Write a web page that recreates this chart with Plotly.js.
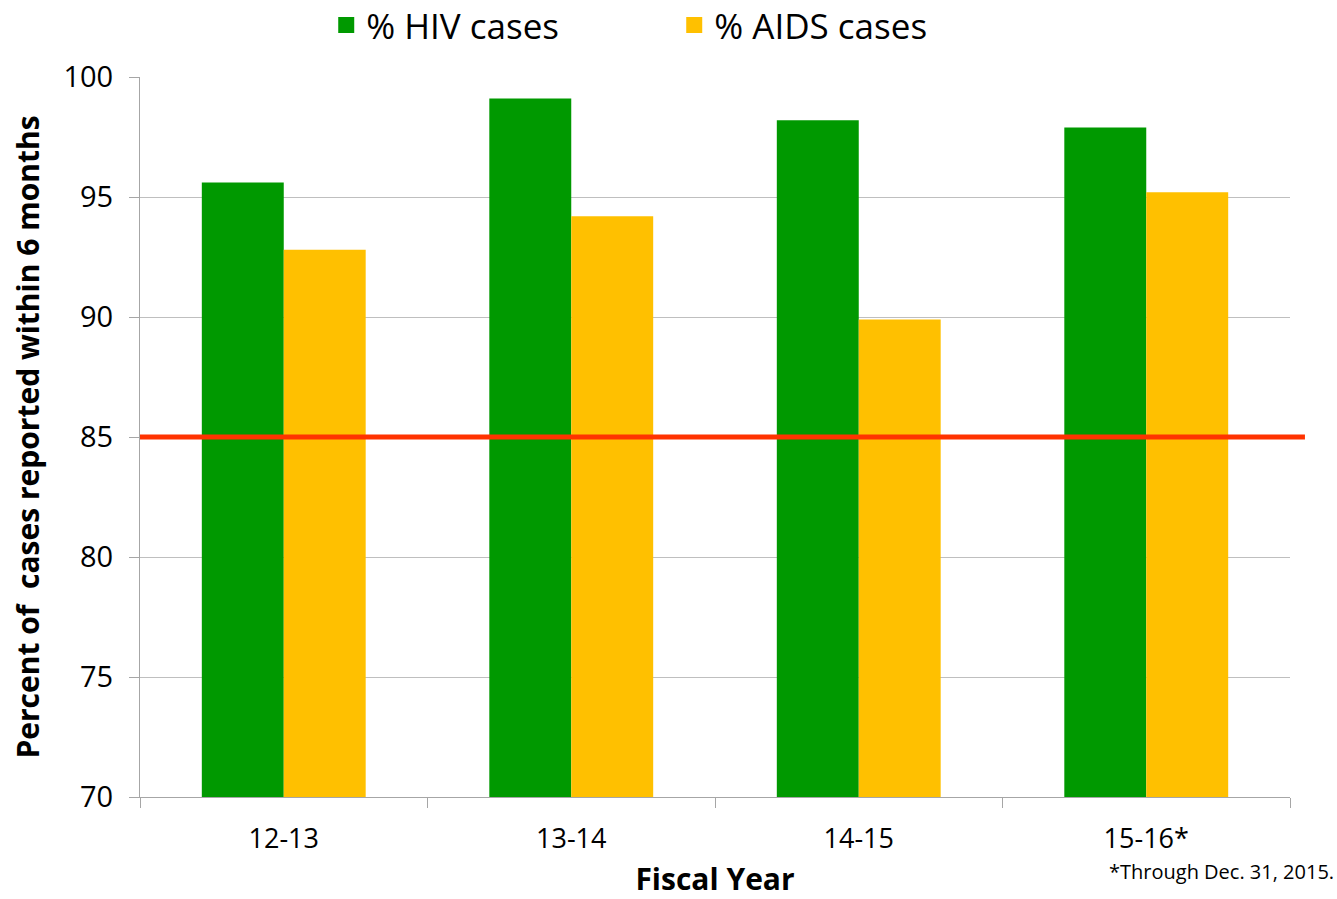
<!DOCTYPE html>
<html><head><meta charset="utf-8">
<script src="https://cdn.plot.ly/plotly-3.0.1.min.js"></script>
<style>html,body{margin:0;padding:0;background:#fff}#chart{width:1337px;height:899px}</style>
</head><body><div id="chart"></div>
<script>
const years = ["12-13", "13-14", "14-15", "15-16*"];
const hivPct = [95.6, 99.1, 98.2, 97.9];
const aidsPct = [92.8, 94.2, 89.9, 95.2];
const targetPct = 85;
const seriesNames = ["% HIV cases", "% AIDS cases"];
const seriesColors = ["#009900", "#FFC000"];

const font = "Open Sans, Noto Sans, sans-serif";
const traces = [
  {type: "bar", name: seriesNames[0], x: years, y: hivPct, marker: {color: seriesColors[0]}, showlegend: false},
  {type: "bar", name: seriesNames[1], x: years, y: aidsPct, marker: {color: seriesColors[1]}, showlegend: false},
  // legend-only entries with larger square keys
  {type: "scatter", mode: "markers", name: seriesNames[0], x: [null], y: [null],
   marker: {symbol: "square", size: 24, color: seriesColors[0]}},
  {type: "scatter", mode: "markers", name: seriesNames[1], x: [null], y: [null],
   marker: {symbol: "square", size: 24, color: seriesColors[1]}}
];
const layout = {
  width: 1337, height: 899,
  margin: {l: 140, r: 47, t: 77, b: 102, autoexpand: false},
  paper_bgcolor: "#fff", plot_bgcolor: "#fff",
  font: {family: font, color: "#000"},
  barmode: "group", bargap: 0.43, bargroupgap: 0,
  showlegend: true,
  legend: {orientation: "h", xref: "container", yref: "container", x: 0.244, xanchor: "left", y: 0.972, yanchor: "middle",
           font: {size: 35, family: font}, itemwidth: 30, entrywidth: 303, itemsizing: "trace"},
  xaxis: {type: "category", tickson: "boundaries", ticks: "outside", ticklen: 10,
          tickcolor: "#A6A6A6", showline: true, linecolor: "#A6A6A6", linewidth: 1,
          tickfont: {size: 27, family: font}, ticklabelstandoff: 18,
          title: {text: "<b>Fiscal Year</b>", font: {size: 30, family: font}, standoff: 18}},
  yaxis: {range: [70, 100], dtick: 5, ticks: "outside", ticklen: 10, tickcolor: "#A6A6A6",
          showline: true, linecolor: "#A6A6A6", gridcolor: "#BFBFBF", zeroline: false,
          tickfont: {size: 29, family: font}, ticklabelstandoff: 10,
          title: {text: "<b>Percent of  cases reported within 6 months</b>", font: {size: 30, family: font}, standoff: 14}},
  shapes: [{type: "line", xref: "paper", yref: "y", x0: 0, x1: 1.013, y0: targetPct, y1: targetPct,
            line: {color: "#FF3300", width: 5}}],
  annotations: [{text: "*Through Dec. 31, 2015.", xref: "paper", yref: "paper", x: 1.04, y: -0.104,
                 xanchor: "right", yanchor: "middle", showarrow: false, font: {size: 20, family: font}}]
};
Plotly.newPlot("chart", traces, layout, {displayModeBar: false});
</script></body></html>
